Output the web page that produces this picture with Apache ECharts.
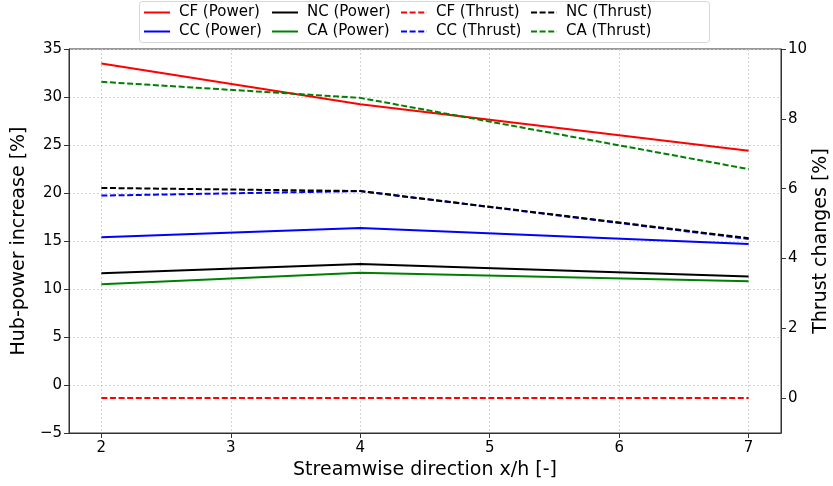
<!DOCTYPE html>
<html>
<head>
<meta charset="utf-8">
<script src="https://cdn.jsdelivr.net/npm/echarts@6/dist/echarts.min.js"></script>
<style>html,body{margin:0;padding:0;background:#fff}#c{width:833px;height:486px}</style>
</head>
<body>
<div id="c"></div>
<script>
const xValues = [2, 4, 7];
const xTicks = [2, 3, 4, 5, 6, 7];
const leftTicks = [-5, 0, 5, 10, 15, 20, 25, 30, 35];
const rightTicks = [0, 2, 4, 6, 8, 10];

const cfPower = [33.5, 29.25, 24.4];
const ccPower = [15.4, 16.35, 14.7];
const ncPower = [11.65, 12.6, 11.3];
const caPower = [10.5, 11.7, 10.8];

const cfThrust = [0.0, 0.0, 0.0];
const ccThrust = [5.8, 5.93, 4.56];
const ncThrust = [6.02, 5.93, 4.58];
const caThrust = [9.06, 8.6, 6.56];

const FONT = 'DejaVu Sans';
const dash = [6, 2.6];

function mk(name, vals, color, dashed, yIdx) {
  return {
    name: name, type: 'line', yAxisIndex: yIdx, symbol: 'none', showSymbol: false,
    data: xValues.map((x, i) => [x, vals[i]]),
    lineStyle: { color: color, width: 2, type: dashed ? dash : 'solid' },
    itemStyle: { color: color },
    emphasis: { disabled: true }, animation: false, z: 3
  };
}

const series = [
  mk('CF (Power)', cfPower, '#ff0000', false, 0),
  mk('CC (Power)', ccPower, '#0000ff', false, 0),
  mk('NC (Power)', ncPower, '#000000', false, 0),
  mk('CA (Power)', caPower, '#008000', false, 0),
  mk('CF (Thrust)', cfThrust, '#ff0000', true, 1),
  mk('CC (Thrust)', ccThrust, '#0000ff', true, 1),
  mk('NC (Thrust)', ncThrust, '#000000', true, 1),
  mk('CA (Thrust)', caThrust, '#008000', true, 1)
];

const legendCols = [
  ['CF (Power)', 'CC (Power)'],
  ['NC (Power)', 'CA (Power)'],
  ['CF (Thrust)', 'CC (Thrust)'],
  ['NC (Thrust)', 'CA (Thrust)']
];
const legendLefts = [143, 271, 400, 530];
const legends = legendCols.map((d, i) => ({
  data: d, orient: 'vertical', left: legendLefts[i], top: 5, itemGap: 4,
  itemWidth: 26, itemHeight: 15, selectedMode: false,
  itemStyle: { opacity: 0, borderWidth: 0 },
  lineStyle: { width: 2 },
  textStyle: { fontFamily: FONT, fontSize: 15, lineHeight: 15, color: '#000', padding: [0, 0, 0, 4] },
  padding: 0
}));

const minus = v => String(v).replace('-', '\u2212');
const axisLine = { show: true, onZero: false, lineStyle: { color: '#333', width: 1 } };
const gridLine = { show: true, lineStyle: { color: '#c8c8c8', width: 0.8, type: [2, 2] } };

const option = {
  animation: false,
  backgroundColor: '#fff',
  legend: legends,
  graphic: [{
    type: 'rect', left: 139, top: 1, z: -1,
    shape: { width: 570, height: 41, r: 3 },
    style: { fill: '#fff', stroke: '#d6d6d6', lineWidth: 1 }
  }],
  grid: { left: 69, right: 52, top: 49, bottom: 53, outerBoundsMode: 'none', containLabel: false,
          show: true, borderColor: '#333', borderWidth: 1, backgroundColor: 'transparent' },
  xAxis: {
    type: 'value', min: 1.75, max: 7.25,
    name: 'Streamwise direction x/h [-]', nameLocation: 'middle', nameGap: 28, nameMoveOverlap: false,
    nameTextStyle: { fontFamily: FONT, fontSize: 19, color: '#000' },
    axisLine: axisLine,
    axisTick: { show: true, customValues: xTicks, length: 5, inside: false, lineStyle: { color: '#333' } },
    axisLabel: { customValues: xTicks, fontFamily: FONT, fontSize: 15, color: '#000', margin: 8, formatter: minus },
    splitLine: gridLine
  },
  yAxis: [{
    type: 'value', min: -5, max: 35, interval: 5, position: 'left',
    name: 'Hub-power increase [%]', nameLocation: 'middle', nameGap: 40, nameRotate: 90, nameMoveOverlap: false,
    nameTextStyle: { fontFamily: FONT, fontSize: 19, color: '#000' },
    axisLine: axisLine,
    axisTick: { show: true, length: 5, lineStyle: { color: '#333' } },
    axisLabel: { fontFamily: FONT, fontSize: 15, color: '#000', margin: 7, formatter: minus },
    splitLine: gridLine
  }, {
    type: 'value', min: -1, max: 10, position: 'right',
    name: 'Thrust changes [%]', nameLocation: 'middle', nameGap: 31, nameRotate: 90, nameMoveOverlap: false,
    nameTextStyle: { fontFamily: FONT, fontSize: 19, color: '#000' },
    axisLine: axisLine,
    axisTick: { show: true, customValues: rightTicks, length: 5, lineStyle: { color: '#333' } },
    axisLabel: { customValues: rightTicks, fontFamily: FONT, fontSize: 15, color: '#000', margin: 7, formatter: minus },
    splitLine: { show: false }
  }],
  series: series
};

const chart = echarts.init(document.getElementById('c'), null, { renderer: 'canvas' });
chart.setOption(option);
</script>
</body>
</html>
